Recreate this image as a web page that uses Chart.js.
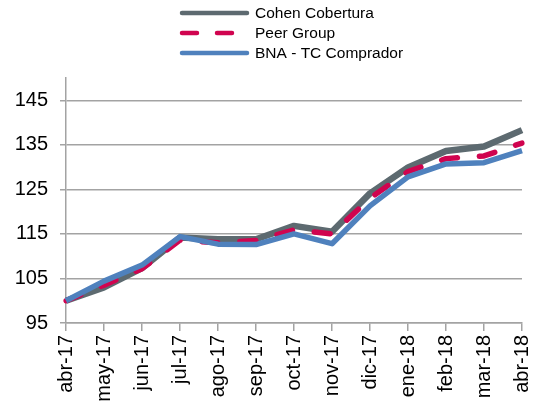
<!DOCTYPE html>
<html>
<head>
<meta charset="utf-8">
<script src="https://cdn.jsdelivr.net/npm/chart.js@4/dist/chart.umd.min.js"></script>
<style>
  html, body { margin: 0; padding: 0; background: #fff; overflow: hidden; }
  #wrap { width: 536px; height: 404px; position: relative; }
</style>
</head>
<body>
<div id="wrap"><canvas id="chart" width="536" height="404"></canvas></div>
<script>
// Data
const months = ['abr-17', 'may-17', 'jun-17', 'jul-17', 'ago-17', 'sep-17', 'oct-17',
  'nov-17', 'dic-17', 'ene-18', 'feb-18', 'mar-18', 'abr-18'];
const cohen = [100, 103.0, 107.3, 114.2, 113.8, 113.8, 116.8, 115.5, 124.1, 129.9, 133.6, 134.6, 138.3];
const peer = [100, 103.5, 107.2, 113.6, 113.0, 113.5, 115.9, 115.0, 123.0, 129.0, 131.9, 132.5, 135.4];
const bna = [100, 104.4, 108.0, 114.4, 112.7, 112.6, 115.0, 112.8, 121.3, 127.8, 130.7, 131.0, 133.7];
const yTicks = [95, 105, 115, 125, 135, 145];

const GRAY = '#5d6a70';
const RED = '#d0044f';
const BLUE = '#4f81bd';
const GRID = '#a3a3a3';
const FONT = '"Liberation Sans", Arial, sans-serif';

// legend drawn at the top, lines stacked vertically like the original
const legendItems = [
  { text: 'Cohen Cobertura', color: GRAY, width: 4.5, dash: [] },
  { text: 'Peer Group', color: RED, width: 4.5, dash: [15, 20] },
  { text: 'BNA - TC Comprador', color: BLUE, width: 4.5, dash: [] },
];

const stackedLegend = {
  id: 'stackedLegend',
  afterDraw(chart) {
    const ctx = chart.ctx;
    ctx.save();
    legendItems.forEach((it, i) => {
      const y = 13 + i * 20;
      ctx.beginPath();
      ctx.strokeStyle = it.color;
      ctx.lineWidth = it.width;
      ctx.lineCap = 'round';
      ctx.setLineDash(it.dash);
      ctx.moveTo(182, y);
      ctx.lineTo(247, y);
      ctx.stroke();
      ctx.setLineDash([]);
      ctx.fillStyle = '#000';
      ctx.font = '15.5px ' + FONT;
      ctx.textBaseline = 'middle';
      ctx.textAlign = 'left';
      ctx.fillText(it.text, 255, y + 1);
    });
    ctx.restore();
  }
};

new Chart(document.getElementById('chart'), {
  type: 'line',
  data: {
    labels: months,
    datasets: [
      { label: 'Cohen Cobertura', data: cohen, borderColor: GRAY, borderWidth: 6.5, order: 3 },
      { label: 'Peer Group', data: peer, borderColor: RED, borderWidth: 5.5, borderDash: [16, 22], borderCapStyle: 'round', order: 2 },
      { label: 'BNA - TC Comprador', data: bna, borderColor: BLUE, borderWidth: 5.5, order: 1 },
    ]
  },
  options: {
    responsive: false,
    animation: false,
    layout: { padding: { top: 78, right: 14, left: 0, bottom: 0 } },
    elements: {
      point: { radius: 0, hoverRadius: 0 },
      line: { tension: 0, borderJoinStyle: 'round', fill: false }
    },
    plugins: { legend: { display: false }, tooltip: { enabled: false } },
    scales: {
      x: {
        offset: false,
        afterFit: s => { s.height = 81; s.paddingLeft = 0; s.paddingRight = 0; },
        grid: { drawOnChartArea: false, drawTicks: true, tickLength: 8, color: GRID, lineWidth: 1.5 },
        border: { color: GRID, width: 1.5 },
        ticks: { color: '#000', font: { family: FONT, size: 20 }, maxRotation: 90, minRotation: 90, padding: 4, autoSkip: false }
      },
      y: {
        min: 95,
        max: 150,
        afterFit: s => { s.width = 66; s.paddingTop = 0; s.paddingBottom = 0; },
        afterBuildTicks: s => { s.ticks = yTicks.map(v => ({ value: v })); },
        grid: { color: GRID, lineWidth: 1.5, tickLength: 6, drawTicks: true },
        border: { color: GRID, width: 1.5 },
        ticks: { color: '#000', font: { family: FONT, size: 20 }, padding: 12 }
      }
    }
  },
  plugins: [stackedLegend]
});
</script>
</body>
</html>
